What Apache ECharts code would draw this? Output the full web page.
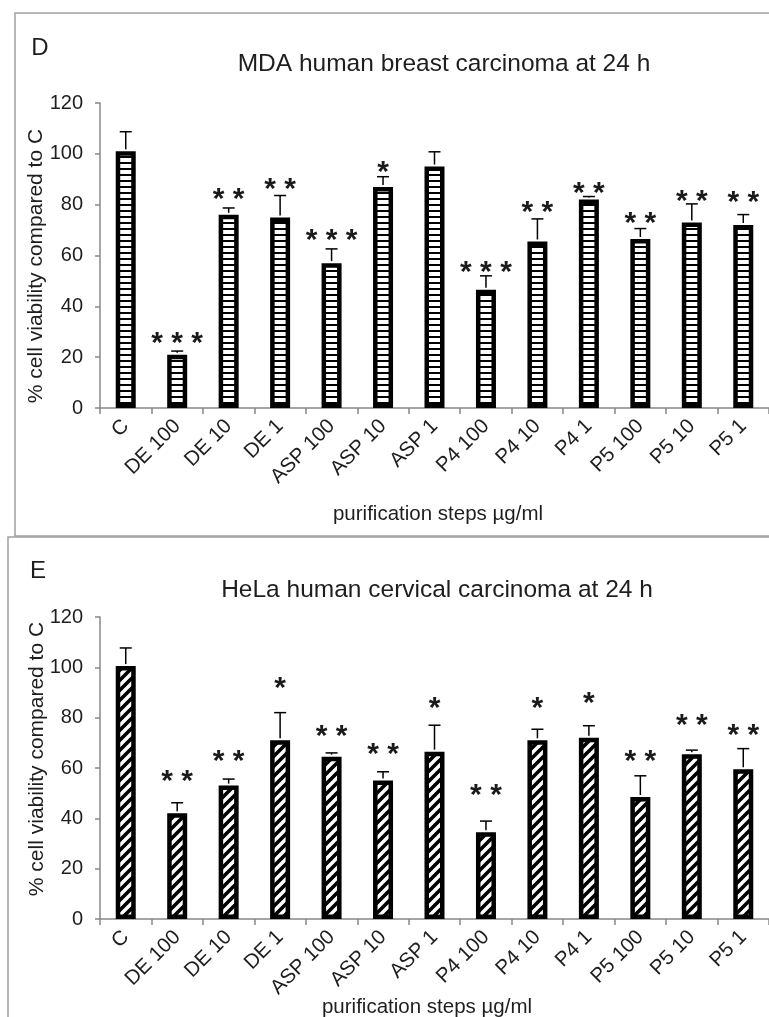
<!DOCTYPE html>
<html>
<head>
<meta charset="utf-8">
<script src="https://cdn.jsdelivr.net/npm/echarts@6/dist/echarts.min.js"></script>
<style>
html,body{margin:0;padding:0;background:#fff;}
#chart{width:769px;height:1017px;}
</style>
</head>
<body>
<div id="chart"></div>
<script>
// ---- data ----
const categories = ['C','DE 100','DE 10','DE 1','ASP 100','ASP 10','ASP 1','P4 100','P4 10','P4 1','P5 100','P5 10','P5 1'];
const yTicks = [0, 20, 40, 60, 80, 100, 120];

const mdaMean  = [101, 21, 76, 75, 57, 87, 95, 46.5, 65.5, 82, 66.5, 73, 72];
const mdaSD    = [7.7, 1.4, 2.7, 8.6, 5.6, 4, 5.8, 5.5, 8.9, 1.2, 4.1, 7.3, 4.1];
const mdaStars = ['', '* * *', '* *', '* *', '* * *', '*', '', '* * *', '* *', '* *', '* *', '* *', '* *'];
const mdaStarY = [null, 28, 84.6, 88.6, 68.5, 95.3, null, 56, 79.5, 87, 75.2, 83.9, 83.5];

const helaMean  = [100.5, 42, 53, 71, 64.5, 55, 66.5, 34.5, 71, 72, 48.5, 65.5, 59.5];
const helaSD    = [7.2, 4.2, 2.6, 11, 1.5, 3.5, 10.5, 4.4, 4.4, 4.8, 8.4, 1.6, 8.2];
const helaStars = ['', '* *', '* *', '*', '* *', '* *', '*', '* *', '*', '*', '* *', '* *', '* *'];
const helaStarY = [null, 57.2, 65.2, 94.3, 75.1, 68, 86.3, 51.6, 86.3, 88.3, 65.2, 79.5, 75.8];

const titleD = 'MDA human breast carcinoma at 24 h';
const titleE = 'HeLa human cervical carcinoma at 24 h';
const yName = '% cell viability compared to C';
const xName = 'purification steps \u00b5g/ml';

// ---- patterns ----
function hPattern(){
  const c = document.createElement('canvas'); c.width = 6; c.height = 6;
  const g = c.getContext('2d');
  g.fillStyle = '#fff'; g.fillRect(0,0,6,6);
  g.fillStyle = '#000'; g.fillRect(0,0,6,2);
  return c;
}
function dPattern(){
  const s = 10;
  const c = document.createElement('canvas'); c.width = s; c.height = s;
  const g = c.getContext('2d');
  g.fillStyle = '#fff'; g.fillRect(0,0,s,s);
  g.strokeStyle = '#000'; g.lineWidth = 3.6;
  g.beginPath();
  g.moveTo(-s/2, s/2); g.lineTo(s/2, -s/2);
  g.moveTo(0, s); g.lineTo(s, 0);
  g.moveTo(s/2, s*1.5); g.lineTo(s*1.5, s/2);
  g.stroke();
  return c;
}

const FONT = "'Liberation Sans', Arial, sans-serif";
const TXT = '#1e1e1e';

function errSeries(idx, mean, sd){
  return {
    type: 'custom', xAxisIndex: idx, yAxisIndex: idx, z: 5,
    data: mean.map((m, i) => [i, m, m + sd[i]]),
    renderItem: function(params, api){
      const p0 = api.coord([api.value(0), api.value(1)]);
      const p1 = api.coord([api.value(0), api.value(2)]);
      const st = {stroke: '#000', lineWidth: 1.5, fill: null};
      return {type: 'group', children: [
        {type: 'line', shape: {x1: p0[0], y1: p0[1] - 2, x2: p1[0], y2: p1[1]}, style: st},
        {type: 'line', shape: {x1: p1[0] - 6, y1: p1[1], x2: p1[0] + 6, y2: p1[1]}, style: st}
      ]};
    }
  };
}
function starSeries(idx, starY, stars){
  const items = starY.map((y, i) => [i, y, stars[i]]).filter(d => d[1] != null);
  return {
    type: 'custom', xAxisIndex: idx, yAxisIndex: idx, z: 6,
    data: items,
    renderItem: function(params, api){
      const item = items[params.dataIndex];
      const p = api.coord([item[0], item[1]]);
      return {type: 'text', style: {text: item[2], x: p[0], y: p[1] + 7,
        textAlign: 'center', textVerticalAlign: 'middle',
        font: 'bold 30px ' + FONT, fill: '#1a1a1a'}};
    }
  };
}
function barSeries(idx, mean, pattern){
  return {
    type: 'bar', xAxisIndex: idx, yAxisIndex: idx, barWidth: 20, z: 3,
    data: mean,
    itemStyle: {color: {image: pattern, repeat: 'repeat'}, borderColor: '#000', borderWidth: 4.5}
  };
}
function xAxis(idx){
  return {
    type: 'category', gridIndex: idx, data: categories,
    axisLine: {lineStyle: {color: '#888', width: 1.5}},
    axisTick: {show: true, length: 6, lineStyle: {color: '#888', width: 1.5}},
    axisLabel: {interval: 0, rotate: 45, fontSize: 20.5, color: TXT, fontFamily: FONT, margin: 15}
  };
}
function yAxis(idx){
  return {
    type: 'value', gridIndex: idx, min: yTicks[0], max: yTicks[yTicks.length - 1], interval: 20,
    axisLine: {show: true, lineStyle: {color: '#888', width: 1.5}},
    axisTick: {show: true, length: 5, lineStyle: {color: '#888', width: 1.5}},
    splitLine: {show: false},
    axisLabel: {fontSize: 20, color: TXT, fontFamily: FONT, margin: 17}
  };
}

const chart = echarts.init(document.getElementById('chart'));
chart.setOption({
  animation: false,
  backgroundColor: '#fff',
  grid: [
    {left: 100, top: 103, width: 671, height: 305},
    {left: 100, top: 617, width: 671, height: 302}
  ],
  xAxis: [xAxis(0), xAxis(1)],
  yAxis: [yAxis(0), yAxis(1)],
  series: [
    barSeries(0, mdaMean, hPattern()),
    errSeries(0, mdaMean, mdaSD),
    starSeries(0, mdaStarY, mdaStars),
    barSeries(1, helaMean, dPattern()),
    errSeries(1, helaMean, helaSD),
    starSeries(1, helaStarY, helaStars)
  ],
  graphic: [
    {type: 'rect', shape: {x: 15, y: 13, width: 800, height: 523}, style: {fill: null, stroke: '#a0a0a0', lineWidth: 1.5}, z: 0},
    {type: 'rect', shape: {x: 8, y: 537, width: 800, height: 600}, style: {fill: null, stroke: '#a0a0a0', lineWidth: 1.5}, z: 0},
    {type: 'text', x: 40, y: 48, style: {text: 'D', font: '24px ' + FONT, fill: TXT, textAlign: 'center', textVerticalAlign: 'middle'}},
    {type: 'text', x: 38, y: 571, style: {text: 'E', font: '24px ' + FONT, fill: TXT, textAlign: 'center', textVerticalAlign: 'middle'}},
    {type: 'text', x: 444, y: 64, style: {text: titleD, font: '24.5px ' + FONT, fill: TXT, textAlign: 'center', textVerticalAlign: 'middle'}},
    {type: 'text', x: 437, y: 590, style: {text: titleE, font: '24.5px ' + FONT, fill: TXT, textAlign: 'center', textVerticalAlign: 'middle'}},
    {type: 'text', x: 36, y: 266, rotation: Math.PI / 2, style: {text: yName, font: '21px ' + FONT, fill: TXT, textAlign: 'center', textVerticalAlign: 'middle'}},
    {type: 'text', x: 37, y: 759, rotation: Math.PI / 2, style: {text: yName, font: '21px ' + FONT, fill: TXT, textAlign: 'center', textVerticalAlign: 'middle'}},
    {type: 'text', x: 438, y: 514, style: {text: xName, font: '20.5px ' + FONT, fill: TXT, textAlign: 'center', textVerticalAlign: 'middle'}},
    {type: 'text', x: 427, y: 1007, style: {text: xName, font: '20.5px ' + FONT, fill: TXT, textAlign: 'center', textVerticalAlign: 'middle'}}
  ]
});
</script>
</body>
</html>
